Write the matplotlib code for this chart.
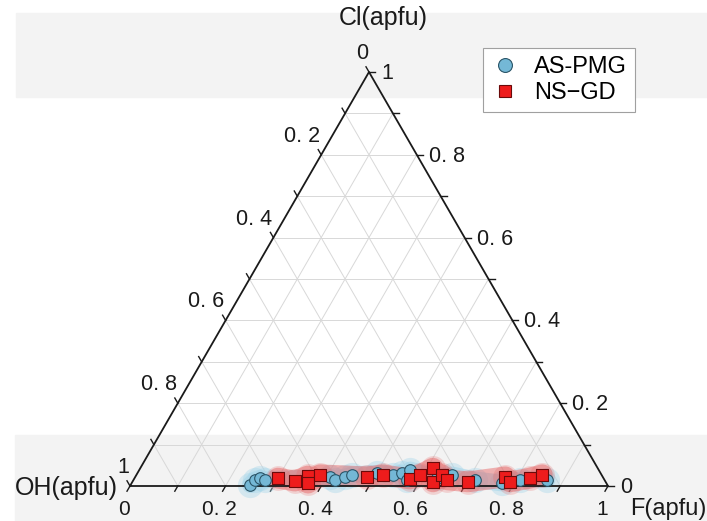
import numpy as np
import matplotlib.pyplot as plt
from matplotlib.lines import Line2D
from matplotlib.patches import Rectangle

plt.rcParams["font.family"] = ["Liberation Sans", "DejaVu Sans"]

# Ternary data: F and Cl (apfu fractions), OH = 1 - F - Cl
as_pmg_f = [0.250, 0.254, 0.262, 0.275, 0.407, 0.422, 0.439, 0.451, 0.501,
            0.537, 0.552, 0.567, 0.572, 0.632, 0.660, 0.715, 0.775, 0.809, 0.865]
as_pmg_cl = [0.003, 0.015, 0.019, 0.015, 0.022, 0.015, 0.022, 0.027, 0.031,
             0.027, 0.032, 0.039, 0.015, 0.019, 0.027, 0.015, 0.007, 0.015, 0.015]

ns_gd_f = [0.300, 0.339, 0.360, 0.369, 0.384, 0.485, 0.516, 0.577, 0.593,
           0.612, 0.629, 0.639, 0.656, 0.702, 0.774, 0.790, 0.827, 0.849]
ns_gd_cl = [0.019, 0.012, 0.024, 0.007, 0.027, 0.022, 0.027, 0.017, 0.027,
            0.043, 0.010, 0.027, 0.015, 0.010, 0.022, 0.010, 0.019, 0.027]

tick_values = [0.0, 0.2, 0.4, 0.6, 0.8, 1.0]
tick_labels = ["0", "0. 2", "0. 4", "0. 6", "0. 8", "1"]

H = np.sqrt(3) / 2


def tern(f, cl):
    """F/Cl fractions -> cartesian coords inside the unit triangle."""
    f = np.asarray(f, dtype=float)
    cl = np.asarray(cl, dtype=float)
    return f + cl / 2, cl * H


fig = plt.figure(figsize=(7.07, 5.21), dpi=100)
W, HT = 707, 521

# light grey screenshot bands
fig.patches.append(Rectangle((16 / W, 1 - 97 / HT), 1, 84 / HT, transform=fig.transFigure,
                             color="#f3f3f3", zorder=-1))
fig.patches.append(Rectangle((15 / W, 0), 1, 86 / HT, transform=fig.transFigure,
                             color="#f3f3f3", zorder=-1))

# triangle corners: BL (130,486), BR (608,486), apex (369,72)
ax = fig.add_axes([130 / W, 1 - 486 / HT, 478 / W, 414 / HT])
ax.set_zorder(2)
ax.set_xlim(0, 1)
ax.set_ylim(0, H)
ax.set_axis_off()
ax.patch.set_alpha(0)

# grid
for v in np.arange(0.1, 0.95, 0.1):
    ax.plot([v / 2, 1 - v / 2], [v * H, v * H], color="#d8d8d8", lw=0.7, zorder=1)
    ax.plot([v, v + (1 - v) / 2], [0, (1 - v) * H], color="#d8d8d8", lw=0.7, zorder=1)
    ax.plot([1 - v, (1 - v) / 2], [0, (1 - v) * H], color="#d8d8d8", lw=0.7, zorder=1)

# frame
ax.plot([0, 1, 0.5, 0], [0, 0, H, 0], color="#1a1a1a", lw=1.3, zorder=3, clip_on=False)

# ticks
L = 6 / 478
for v in np.arange(0, 1.01, 0.1):
    # bottom (F), outward down-left
    ax.plot([v, v - 0.5 * L], [0, -H * L], color="#1a1a1a", lw=1.0, clip_on=False)
    # right (Cl), outward to the right
    x, y = tern(1 - v, v)
    ax.plot([x, x + L], [y, y], color="#1a1a1a", lw=1.0, clip_on=False)
    # left (OH), outward up-left
    x, y = tern(0, 1 - v)
    ax.plot([x, x - 0.5 * L], [y, y + H * L], color="#1a1a1a", lw=1.0, clip_on=False)

fs = 15.5
for v, lab in zip(tick_values, tick_labels):
    x, y = tern(v, 0)
    ax.annotate(lab, (x, y), xytext=(-6, -29), textcoords="offset pixels",
                ha="center", va="baseline", fontsize=15, color="#1a1a1a")
    x, y = tern(1 - v, v)
    ax.annotate(lab, (x, y), xytext=(12, -7), textcoords="offset pixels",
                ha="left", va="baseline", fontsize=fs, color="#1a1a1a")
    x, y = tern(0, 1 - v)
    ax.annotate(lab, (x, y), xytext=(-1, 13), textcoords="offset pixels",
                ha="right", va="baseline", fontsize=fs, color="#1a1a1a")

# axis titles
fig.text(383 / W, 1 - 18 / HT, "Cl(apfu)", ha="center", va="center", fontsize=18, color="#1a1a1a")
fig.text(66 / W, 1 - 488 / HT, "OH(apfu)", ha="center", va="center", fontsize=18, color="#1a1a1a")
fig.text(668 / W, 1 - 509 / HT, "F(apfu)", ha="center", va="center", fontsize=17, color="#1a1a1a")

# halos behind the points
ax_x, ax_y = tern(as_pmg_f, as_pmg_cl)
ns_x, ns_y = tern(ns_gd_f, ns_gd_cl)
order = np.argsort(ax_x)
ax.plot(ax_x[order], ax_y[order], color="#a6d6ea", lw=12, alpha=0.6,
        solid_capstyle="round", solid_joinstyle="round", zorder=2, clip_on=False)
ax.scatter(ax_x, ax_y, s=330, color="#a6d6ea", alpha=0.4, lw=0, zorder=2, clip_on=False)
order = np.argsort(ns_x)
ax.plot(ns_x[order], ns_y[order], color="#e65c5c", lw=15, alpha=0.45,
        solid_capstyle="round", solid_joinstyle="round", zorder=2, clip_on=False)
ax.scatter(ns_x, ns_y, s=320, color="#e65c5c", alpha=0.22, lw=0, zorder=2, clip_on=False)

# points
ax.scatter(ax_x, ax_y, s=70, marker="o", facecolor="#74b8d6", edgecolor="#2b5568",
           lw=0.8, zorder=4, clip_on=False)
ax.scatter(ns_x, ns_y, s=80, marker="s", facecolor="#ee1c1c", edgecolor="#6a0a0a",
           lw=0.8, zorder=5, clip_on=False)

handles = [
    Line2D([], [], ls="none", marker="o", markersize=10, markerfacecolor="#74b8d6",
           markeredgecolor="#2b5568", markeredgewidth=0.8, label="AS-PMG"),
    Line2D([], [], ls="none", marker="s", markersize=9, markerfacecolor="#ee1c1c",
           markeredgecolor="#6a0a0a", markeredgewidth=0.8, label="NS\u2212GD"),
]
leg = fig.legend(handles=handles, loc="upper left", bbox_to_anchor=(483 / W, 1 - 48 / HT),
                 bbox_transform=fig.transFigure, fontsize=17, frameon=True, fancybox=False,
                 edgecolor="#a0a0a0", framealpha=1, handletextpad=0.6, borderpad=0.35,
                 labelspacing=0.15, handlelength=1.2, borderaxespad=0)
leg.get_frame().set_linewidth(0.8)
leg.set_zorder(5)

fig.savefig("out.png", dpi=100)
